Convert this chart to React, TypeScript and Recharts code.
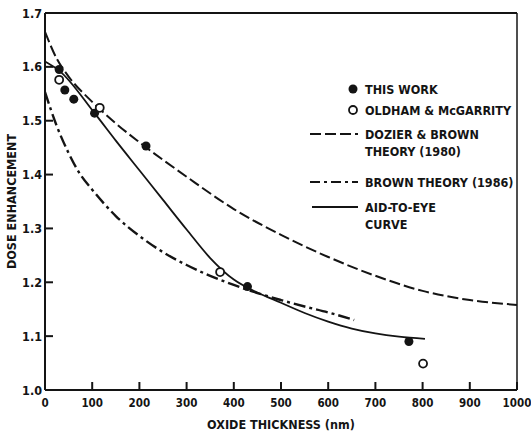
import React from 'react';
import { ComposedChart, Line, Scatter, XAxis, YAxis, ReferenceLine, Legend, Label } from 'recharts';

document.body.style.margin = '0';

// oxide thickness (nm) vs dose enhancement
const thisWorkX = [30, 42, 61, 105, 214, 429, 771];
const thisWorkY = [1.595, 1.557, 1.54, 1.514, 1.453, 1.192, 1.09];

const oldhamX = [30, 116, 371, 801];
const oldhamY = [1.576, 1.524, 1.219, 1.049];

const dozierX = [0, 25, 50, 100, 150, 200, 300, 400, 500, 600, 700, 800, 900, 1000];
const dozierY = [1.665, 1.615, 1.582, 1.535, 1.495, 1.46, 1.396, 1.336, 1.288, 1.247, 1.212, 1.184, 1.167, 1.158];

const brownX = [0, 25, 50, 75, 100, 150, 200, 250, 300, 350, 400, 450, 500, 550, 600, 655];
const brownY = [1.553, 1.49, 1.44, 1.4, 1.372, 1.323, 1.286, 1.256, 1.232, 1.212, 1.195, 1.18, 1.167, 1.155, 1.144, 1.13];

const aidX = [0, 30, 105, 150, 200, 250, 300, 350, 400, 450, 500, 550, 600, 650, 700, 750, 805];
const aidY = [1.61, 1.593, 1.514, 1.463, 1.408, 1.353, 1.298, 1.245, 1.205, 1.181, 1.162, 1.143, 1.127, 1.114, 1.105, 1.099, 1.095];

const xTicks = [0, 100, 200, 300, 400, 500, 600, 700, 800, 900, 1000];
const yTicks = [1.0, 1.1, 1.2, 1.3, 1.4, 1.5, 1.6, 1.7];

const zip = (xs: number[], ys: number[]) => xs.map((x, i) => ({ x, y: ys[i] }));

const thisWork = zip(thisWorkX, thisWorkY);
const oldham = zip(oldhamX, oldhamY);
const dozier = zip(dozierX, dozierY);
const brown = zip(brownX, brownY);
const aid = zip(aidX, aidY);

const INK = '#141414';
const FONT = "'Liberation Sans Narrow', 'DejaVu Sans Condensed', 'Roboto', sans-serif";

const YTick = (props: any) => {
  const { x, y, payload } = props;
  return (
    <g>
      <line x1={x} y1={y} x2={x + 8} y2={y} stroke={INK} strokeWidth={2} />
      <text x={x - 3} y={y} dy={4.5} textAnchor="end" fill={INK} fontFamily={FONT} fontWeight={700} fontSize={12.5}>
        {Number(payload.value).toFixed(1)}
      </text>
    </g>
  );
};

const XTick = (props: any) => {
  const { x, y, payload } = props;
  return (
    <g>
      <line x1={x} y1={y} x2={x} y2={y - 8} stroke={INK} strokeWidth={2} />
      <text x={x} y={y} dy={17} textAnchor="middle" fill={INK} fontFamily={FONT} fontWeight={700} fontSize={11.5}>
        {payload.value}
      </text>
    </g>
  );
};

const LegendBox = () => {
  const t = { fill: INK, fontFamily: FONT, fontWeight: 700, fontSize: 12.5 } as const;
  return (
    <svg width={220} height={160} style={{ display: 'block' }}>
      <circle cx={48} cy={11} r={4.5} fill={INK} />
      <text x={60} y={15.5} {...t}>THIS WORK</text>
      <circle cx={48} cy={32} r={4} fill="#fff" stroke={INK} strokeWidth={1.8} />
      <text x={60} y={36.5} {...t}>OLDHAM &amp; McGARRITY</text>
      <line x1={5} y1={56} x2={53} y2={56} stroke={INK} strokeWidth={2} strokeDasharray="11 4" />
      <text x={60} y={60.5} {...t}>DOZIER &amp; BROWN</text>
      <text x={60} y={77.5} {...t}>THEORY (1980)</text>
      <line x1={5} y1={104} x2={53} y2={104} stroke={INK} strokeWidth={2.2} strokeDasharray="10 4 3 4" />
      <text x={60} y={108.5} {...t}>BROWN THEORY (1986)</text>
      <line x1={7} y1={129} x2={53} y2={129} stroke={INK} strokeWidth={1.8} />
      <text x={60} y={133.5} {...t}>AID-TO-EYE</text>
      <text x={60} y={150.5} {...t}>CURVE</text>
    </svg>
  );
};

export default function App() {
  return (
    <div style={{ width: 531, height: 434, background: '#fff' }}>
      <ComposedChart width={531} height={434} margin={{ top: 13, right: 14, bottom: 0, left: 0 }}>
        <XAxis
          type="number"
          dataKey="x"
          domain={[0, 1000]}
          ticks={xTicks}
          interval={0}
          height={44}
          tickSize={0}
          tickMargin={0}
          tickLine={false}
          tick={<XTick />}
          axisLine={{ stroke: INK, strokeWidth: 2 }}
        >
          <Label
            value="OXIDE THICKNESS (nm)"
            position="insideBottom"
            offset={5}
            style={{ fill: INK, fontFamily: FONT, fontWeight: 700, fontSize: 12.5 }}
          />
        </XAxis>
        <YAxis
          type="number"
          dataKey="y"
          domain={[1.0, 1.7]}
          ticks={yTicks}
          interval={0}
          width={45}
          tickSize={0}
          tickMargin={0}
          tickLine={false}
          tick={<YTick />}
          axisLine={{ stroke: INK, strokeWidth: 2 }}
        >
          <Label
            value="DOSE ENHANCEMENT"
            angle={-90}
            position="insideLeft"
            offset={12}
            style={{ fill: INK, fontFamily: FONT, fontWeight: 700, fontSize: 12.5, textAnchor: 'middle' }}
          />
        </YAxis>
        <ReferenceLine y={1.7} stroke={INK} strokeWidth={2} />
        <ReferenceLine x={1000} stroke={INK} strokeWidth={1.5} />
        <Legend
          layout="vertical"
          align="center"
          verticalAlign="middle"
          wrapperStyle={{ left: 305, top: 78, width: 220 }}
          content={<LegendBox />}
        />
        <Line data={dozier} dataKey="y" name="DOZIER & BROWN THEORY (1980)" type="monotone" stroke={INK} strokeWidth={2} strokeDasharray="11 4" dot={false} isAnimationActive={false} />
        <Line data={brown} dataKey="y" name="BROWN THEORY (1986)" type="monotone" stroke={INK} strokeWidth={2.4} strokeDasharray="12 4 3 4" dot={false} isAnimationActive={false} />
        <Line data={aid} dataKey="y" name="AID-TO-EYE CURVE" type="monotone" stroke={INK} strokeWidth={1.8} dot={false} isAnimationActive={false} />
        <Scatter data={thisWork} dataKey="y" name="THIS WORK" fill={INK} shape={(p: any) => <circle cx={p.cx} cy={p.cy} r={4.5} fill={INK} />} isAnimationActive={false} />
        <Scatter data={oldham} dataKey="y" name="OLDHAM & McGARRITY" fill="#fff" shape={(p: any) => <circle cx={p.cx} cy={p.cy} r={4} fill="#fff" stroke={INK} strokeWidth={1.8} />} isAnimationActive={false} />
      </ComposedChart>
    </div>
  );
}
